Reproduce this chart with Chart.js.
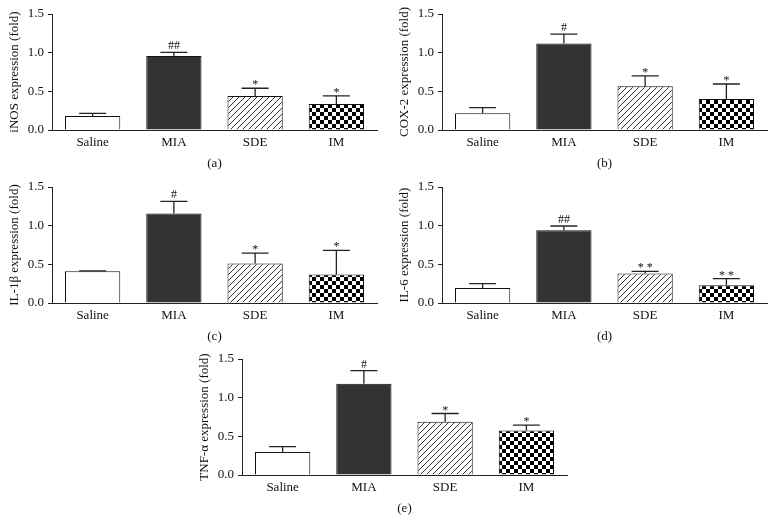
<!DOCTYPE html>
<html><head><meta charset="utf-8">
<script src="https://cdn.jsdelivr.net/npm/chart.js@4/dist/chart.umd.min.js"></script>
<style>
html,body{margin:0;padding:0;background:#fff;}
body{width:776px;height:523px;position:relative;overflow:hidden;}
canvas{position:absolute;}
</style></head><body>
<canvas id="cA" width="386" height="175" style="left:0px;top:0px"></canvas>
<canvas id="cB" width="386" height="175" style="left:390px;top:0px"></canvas>
<canvas id="cC" width="386" height="175" style="left:0px;top:173px"></canvas>
<canvas id="cD" width="386" height="175" style="left:390px;top:173px"></canvas>
<canvas id="cE" width="386" height="175" style="left:190px;top:345px"></canvas>
<script>
// ---- data ----
const groups = ['Saline', 'MIA', 'SDE', 'IM'];
const yTickValues = [0, 0.5, 1.0, 1.5];

const inosMean  = [0.18, 0.957, 0.44, 0.336];
const inosUpper = [0.215, 1.005, 0.54, 0.44];
const inosSig   = ['', '##', '*', '*'];

const coxMean  = [0.215, 1.12, 0.565, 0.40];
const coxUpper = [0.29, 1.24, 0.70, 0.595];
const coxSig   = ['', '#', '*', '*'];

const il1bMean  = [0.41, 1.156, 0.51, 0.37];
const il1bUpper = [0.415, 1.315, 0.646, 0.68];
const il1bSig   = ['', '#', '*', '*'];

const il6Mean  = [0.194, 0.94, 0.38, 0.229];
const il6Upper = [0.25, 0.996, 0.41, 0.315];
const il6Sig   = ['', '##', '* *', '* *'];

const tnfMean  = [0.296, 1.18, 0.69, 0.576];
const tnfUpper = [0.366, 1.35, 0.795, 0.645];
const tnfSig   = ['', '#', '*', '*'];

const panels = [
  {id:'cA', title:'iNOS expression (fold)',  caption:'(a)', mean:inosMean, upper:inosUpper, sig:inosSig},
  {id:'cB', title:'COX-2 expression (fold)', caption:'(b)', mean:coxMean,  upper:coxUpper,  sig:coxSig},
  {id:'cC', title:'IL-1\u03B2 expression (fold)', caption:'(c)', mean:il1bMean, upper:il1bUpper, sig:il1bSig},
  {id:'cD', title:'IL-6 expression (fold)',  caption:'(d)', mean:il6Mean,  upper:il6Upper,  sig:il6Sig},
  {id:'cE', title:'TNF-\u03B1 expression (fold)', caption:'(e)', mean:tnfMean, upper:tnfUpper, sig:tnfSig}
];

const FONT = '"Liberation Serif", "DejaVu Serif", serif';
const TXT = '#111';

function hatchPattern(ctx) {
  const c = document.createElement('canvas'); c.width = 6; c.height = 6;
  const g = c.getContext('2d');
  g.fillStyle = '#fff'; g.fillRect(0,0,6,6);
  g.strokeStyle = '#333'; g.lineWidth = 1;
  g.beginPath();
  g.moveTo(0,6); g.lineTo(6,0);
  g.moveTo(-1,1); g.lineTo(1,-1);
  g.moveTo(5,7); g.lineTo(7,5);
  g.stroke();
  return ctx.createPattern(c, 'repeat');
}
function checkerPattern(ctx) {
  const c = document.createElement('canvas'); c.width = 8; c.height = 8;
  const g = c.getContext('2d');
  g.fillStyle = '#fff'; g.fillRect(0,0,8,8);
  g.fillStyle = '#000'; g.fillRect(0,0,4,4); g.fillRect(4,4,4,4);
  return ctx.createPattern(c, 'repeat');
}

const errPlugin = {
  id: 'errbars',
  afterDatasetsDraw(chart, args, opts) {
    const ctx = chart.ctx;
    const y = chart.scales.y;
    const meta = chart.getDatasetMeta(0);
    ctx.save();
    ctx.strokeStyle = '#222';
    ctx.lineWidth = 1.3;
    meta.data.forEach((bar, i) => {
      const x = bar.x;
      const yE = y.getPixelForValue(opts.upper[i]);
      ctx.beginPath();
      ctx.moveTo(x, bar.y); ctx.lineTo(x, yE);
      ctx.moveTo(x - 13.5, yE); ctx.lineTo(x + 13.5, yE);
      ctx.stroke();
      const s = opts.sig[i];
      if (s) {
        ctx.font = '12px ' + FONT;
        ctx.fillStyle = TXT;
        ctx.textAlign = 'center';
        ctx.textBaseline = 'alphabetic';
        const m = ctx.measureText(s);
        const base = yE - 3 - m.actualBoundingBoxDescent;
        ctx.fillText(s, x, base);
      }
    });
    ctx.restore();
  }
};

panels.forEach(p => {
  const canvas = document.getElementById(p.id);
  const ctx = canvas.getContext('2d');
  new Chart(ctx, {
    type: 'bar',
    data: {
      labels: groups,
      datasets: [{
        data: p.mean,
        backgroundColor: ['#ffffff', '#333333', hatchPattern(ctx), checkerPattern(ctx)],
        borderColor: '#111',
        borderWidth: 1,
        barPercentage: 0.68,
        categoryPercentage: 1.0
      }]
    },
    options: {
      responsive: false,
      animation: false,
      devicePixelRatio: 1,
      layout: {padding: {top: 14, right: 9, left: 0, bottom: 0}},
      plugins: {
        legend: {display: false},
        tooltip: {enabled: false},
        errbars: {upper: p.upper, sig: p.sig}
      },
      scales: {
        x: {
          offset: true,
          grid: {display: false, drawTicks: false},
          border: {display: true, color: '#222', width: 1},
          ticks: {color: TXT, font: {family: FONT, size: 13}, padding: 5},
          title: {display: true, text: p.caption, color: TXT, font: {family: FONT, size: 13}, padding: {top: 0, bottom: 4}},
          afterFit: s => { s.height = 45; }
        },
        y: {
          min: 0, max: 1.5,
          afterBuildTicks: s => { s.ticks = yTickValues.map(v => ({value: v})); },
          grid: {display: true, drawOnChartArea: false, drawTicks: true, tickLength: 4, color: '#222'},
          border: {display: true, color: '#222', width: 1},
          ticks: {color: TXT, font: {family: FONT, size: 13}, padding: 4, callback: v => Number(v).toFixed(1)},
          title: {display: true, text: p.title, color: TXT, font: {family: FONT, size: 13}, padding: {top: 7, bottom: 0}},
          afterFit: s => { s.width = 52; }
        }
      }
    },
    plugins: [errPlugin]
  });
});
</script>
</body></html>
